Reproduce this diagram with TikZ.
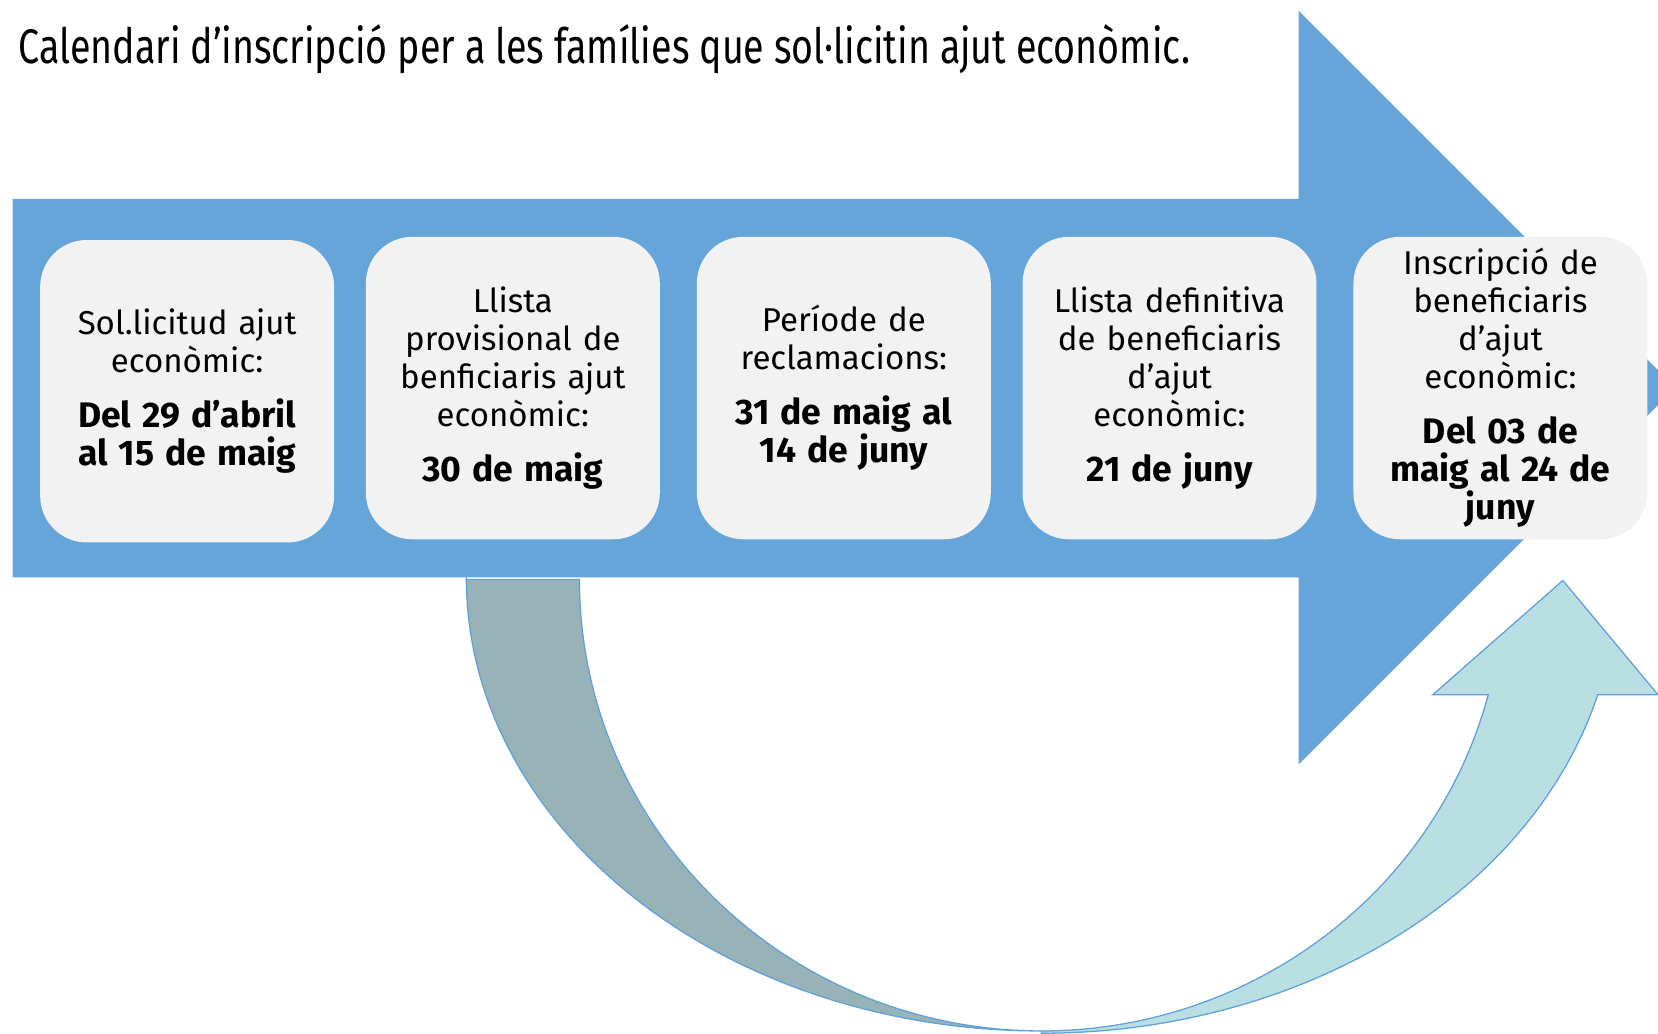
\documentclass[tikz,border=0pt]{standalone}
\usepackage{fontspec}
\setmainfont{Fira Sans}
\usepackage{graphicx}
\definecolor{arrowblue}{HTML}{65A5DA}
\definecolor{boxgray}{HTML}{F2F2F2}
\definecolor{darkband}{HTML}{97B3B7}
\definecolor{lightband}{HTML}{B9DFE2}
\definecolor{edgeblue}{HTML}{5FA1DB}
\newcommand\stagebold[1]{{\fontsize{16.8}{18}\selectfont\bfseries #1}}
\begin{document}
\begin{tikzpicture}[x=0.5pt,y=-0.5pt,
  stagebox/.style={fill=boxgray, rounded corners=22pt, minimum width=139pt,
    minimum height=143pt, inner sep=0pt, align=center, text width=132pt,
    font=\fontsize{15.6}{18}\selectfont},
  band/.style={draw=edgeblue, line width=0.6pt}]
\useasboundingbox (0,0) rectangle (1568,977);
\begin{scope}
\clip (0,0) rectangle (1568,977);
% big arrow
\fill[arrowblue] (12,188) -- (1228,188) -- (1228,10) -- (1584.5,366.5)
  -- (1228,723) -- (1228,546) -- (12,546) -- cycle;
% dark band (left half of curved arrow)
\filldraw[band, fill=darkband] (441,548) -- (548,548)
  arc[start angle=180, end angle=90, x radius=437, y radius=427]
  arc[start angle=90, end angle=180, x radius=544, y radius=429] -- cycle;
% light band with head
\filldraw[band, fill=lightband] (985,975)
  arc[start angle=90, end angle=14.8, x radius=437, y radius=427]
  -- (1355,657) -- (1478,549) -- (1568,657) -- (1511,657)
  arc[start angle=14.7, end angle=90, x radius=544, y radius=429] -- cycle;
\end{scope}
% title
\node[anchor=base west, inner sep=0pt] (title) at (17,60)
  {\resizebox{554pt}{\height}{\fontsize{23}{28}\selectfont Calendari d’inscripció per a les famílies que sol·licitin ajut econòmic.}};
% boxes
\node[stagebox] (b1) at (177,370) {Sol.licitud ajut\\econòmic:\\[8pt]\stagebold{Del 29 d’abril}\\\stagebold{al 15 de maig}};
\node[stagebox] (b2) at (485,367) {Llista\\provisional de\\benficiaris ajut\\econòmic:\\[8pt]\stagebold{30 de maig}};
\node[stagebox] (b3) at (798,367) {Període de\\reclamacions:\\[8pt]\stagebold{31 de maig al}\\\stagebold{14 de juny}};
\node[stagebox] (b4) at (1106,367) {Llista definitiva\\de beneficiaris\\d’ajut\\econòmic:\\[8pt]\stagebold{21 de juny}};
\node[stagebox] (b5) at (1419,367) {Inscripció de\\beneficiaris\\d’ajut\\econòmic:\\[8pt]\stagebold{Del 03 de}\\\stagebold{maig al 24 de}\\\stagebold{juny}};
\end{tikzpicture}
\end{document}
